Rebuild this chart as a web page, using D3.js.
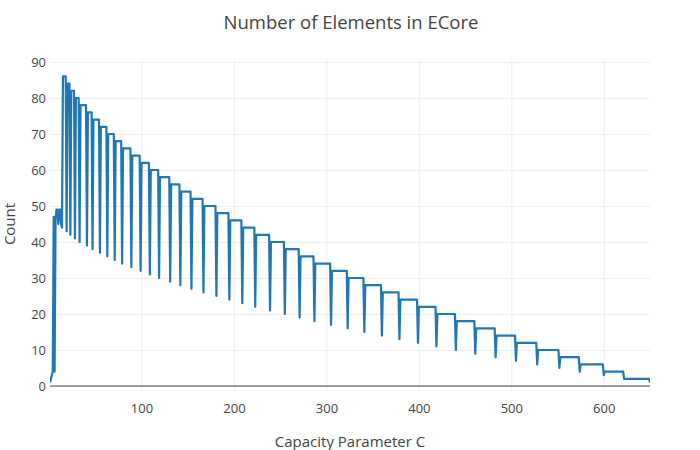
<!DOCTYPE html>
<html lang="en">
<head>
  <meta charset="UTF-8">
  <title>Number of Elements in ECore</title>
  <style>
    body { margin: 0; background: #fff; }
    text { font-family: "Open Sans", sans-serif; fill: #444; }
    .tick line { stroke: #eee; }
    .domain { display: none; }
  </style>
</head>
<body>
  <div id="app"></div>
  <script src="https://cdn.jsdelivr.net/npm/d3@7"></script>
  <script>
    // start of the curve, read point by point
    const initC = [1, 2, 3, 4, 5, 6, 7, 8, 9, 10, 11, 12, 13, 14]
    const initV = [1, 2, 3, 4, 47, 4, 46, 49, 49, 45, 49, 49, 45, 44]

    // each tooth: where it rises, its plateau and the dip that ends it
    const riseC = [15, 20, 24, 29, 34, 42, 48, 56, 64, 72, 80, 90, 100, 110, 120,
      132, 143, 155, 168, 182, 196, 210, 224, 240, 256, 272, 288, 306, 324, 342,
      361, 380, 400, 420, 441, 462, 484, 506, 529, 553, 575, 601, 623]
    const plateau = [86, 84, 82, 80, 78, 76, 74, 72, 70, 68, 66, 64, 62, 60, 58,
      56, 54, 52, 50, 48, 46, 44, 42, 40, 38, 36, 34, 32, 30, 28,
      26, 24, 22, 20, 18, 16, 14, 12, 10, 8, 6, 4, 2]
    const dipVal = [43, 42, 41, 40, 39, 38, 37, 36, 35, 34, 33, 32, 31, 30, 29,
      28, 27, 26, 25, 24, 23, 22, 21, 20, 19, 18, 17, 16, 15, 14,
      13, 12, 11, 10, 9, 8, 7, 6, 5, 4, 3, 2, 1]
    const lastC = 650

    const xTicks = [100, 200, 300, 400, 500, 600]
    const yTicks = [0, 10, 20, 30, 40, 50, 60, 70, 80, 90]

    const width = 700, height = 450
    const plotL = 50, plotR = 650, plotT = 60, plotB = 390

    const points = initC.map((c, i) => [c, initV[i]])
    riseC.forEach((c, i) => {
      const end = i < riseC.length - 1 ? riseC[i + 1] - 2 : lastC - 1
      points.push([c, plateau[i]])
      points.push([end, plateau[i]])
      points.push([end + 1, dipVal[i]])
    })

    const x = d3.scaleLinear().domain([1, lastC]).range([plotL, plotR])
    const y = d3.scaleLinear().domain([0, 90]).range([386, 62])

    const svg = d3.select('#app').append('svg')
      .attr('width', width)
      .attr('height', height)

    svg.append('clipPath').attr('id', 'clip')
      .append('rect')
      .attr('x', plotL).attr('y', plotT)
      .attr('width', plotR - plotL).attr('height', plotB - plotT)

    // grid + tick labels
    const gx = svg.append('g')
      .attr('transform', `translate(0, ${plotT})`)
      .call(d3.axisBottom(x).tickValues(xTicks).tickSize(plotB - plotT).tickPadding(8))
    gx.selectAll('text').attr('font-size', 13).attr('dy', '0.71em')
      .attr('y', 386 - plotT + 18)

    const gy = svg.append('g')
      .attr('transform', `translate(${plotL}, 0)`)
      .call(d3.axisLeft(y).tickValues(yTicks).tickSize(-(plotR - plotL)).tickPadding(4))
    gy.selectAll('text').attr('font-size', 13).attr('x', -4)
    gy.selectAll('.tick').filter(d => d === 0).select('line').attr('stroke', 'none')
    svg.selectAll('.tick text').style('fill', '#444').attr('font-family', '"Open Sans", sans-serif')

    // zero line
    svg.append('line')
      .attr('x1', plotL).attr('x2', plotR)
      .attr('y1', y(0)).attr('y2', y(0))
      .attr('stroke', '#444').attr('stroke-width', 1)

    svg.append('path')
      .datum(points)
      .attr('clip-path', 'url(#clip)')
      .attr('fill', 'none')
      .attr('stroke', '#1f77b4')
      .attr('stroke-width', 2.2)
      .attr('stroke-linejoin', 'round')
      .attr('d', d3.line().x(d => x(d[0])).y(d => y(d[1])))

    svg.append('text')
      .attr('x', 351).attr('y', 29)
      .attr('text-anchor', 'middle')
      .attr('font-size', 18.5)
      .text('Number of Elements in ECore')

    svg.append('text')
      .attr('x', 350).attr('y', 447)
      .attr('text-anchor', 'middle')
      .attr('font-size', 15)
      .text('Capacity Parameter C')

    svg.append('text')
      .attr('transform', 'translate(15, 224) rotate(-90)')
      .attr('text-anchor', 'middle')
      .attr('font-size', 15)
      .text('Count')
  </script>
</body>
</html>
